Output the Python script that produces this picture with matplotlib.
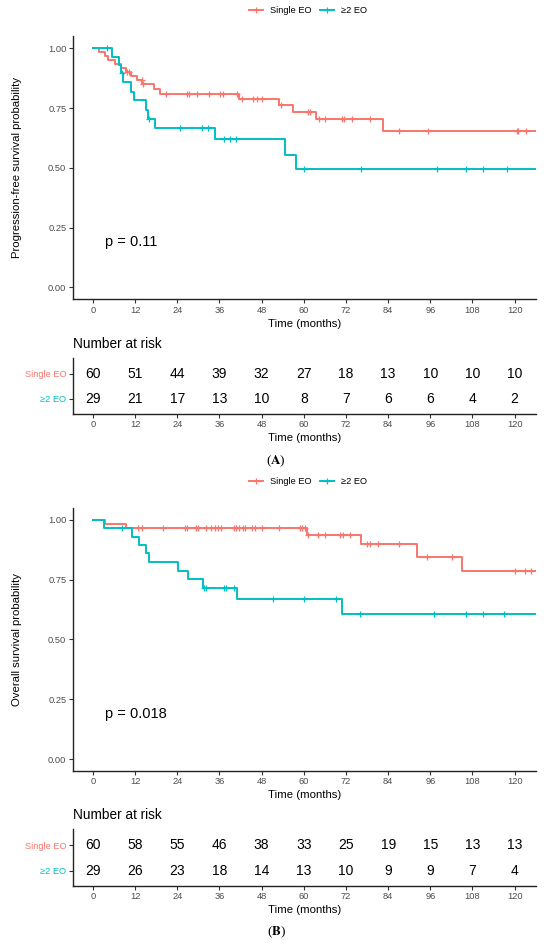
import numpy as np
import matplotlib
matplotlib.use("Agg")
import matplotlib.pyplot as plt
from matplotlib.lines import Line2D

plt.rcParams['font.family'] = ['Liberation Sans', 'DejaVu Sans']
plt.rcParams['mathtext.fontset'] = 'stix'

# --- data ---
groups = ['Single EO', '≥2 EO']
colors = ['#F8766D', '#00BFC4']
risk_times = [0, 12, 24, 36, 48, 60, 72, 84, 96, 108, 120]
t_end = 126

# (A) progression-free survival
pfs_single_times = [1.8, 3.3, 4.3, 6.2, 8.0, 9.3, 10.8, 12.5, 14.0, 17.5, 19.0, 41.6, 52.9, 56.8, 63.6, 82.5]
pfs_single_surv = [0.983, 0.967, 0.950, 0.933, 0.917, 0.900, 0.883, 0.866, 0.850, 0.828, 0.810,
                   0.787, 0.763, 0.735, 0.704, 0.655]
pfs_single_cens = [9.6, 10.3, 13.9, 14.3, 20.9, 26.9, 27.4, 29.5, 33.0, 36.1, 36.9, 40.9, 42.5, 45.5,
                   46.6, 48.2, 53.6, 61.3, 61.9, 64.4, 66.0, 70.9, 71.5, 73.8, 78.9, 87.2, 95.4,
                   120.6, 121.1, 123.3]
pfs_multi_times = [5.3, 7.3, 7.9, 8.6, 10.7, 11.7, 15.0, 15.75, 17.6, 34.7, 54.6, 57.8]
pfs_multi_surv = [0.965, 0.930, 0.895, 0.860, 0.818, 0.784, 0.742, 0.705, 0.665, 0.621, 0.553, 0.497]
pfs_multi_cens = [3.9, 8.2, 15.9, 24.8, 31.1, 32.6, 37.3, 39.0, 40.6, 60.1, 76.4, 97.8, 106.3,
                  111.1, 117.8]
pfs_risk_single = [60, 51, 44, 39, 32, 27, 18, 13, 10, 10, 10]
pfs_risk_multi = [29, 21, 17, 13, 10, 8, 7, 6, 6, 4, 2]
pfs_pval = 'p = 0.11'

# (B) overall survival
os_single_times = [3.4, 9.3, 60.8, 76.2, 92.1, 105.1]
os_single_surv = [0.983, 0.967, 0.937, 0.900, 0.847, 0.787]
os_single_cens = [12.9, 13.9, 20.0, 26.3, 26.9, 29.2, 30.0, 32.1, 33.6, 34.6, 35.6, 36.3, 40.0,
                  40.8, 41.6, 42.6, 43.3, 45.2, 46.2, 48.0, 53.0, 58.9, 59.6, 60.3, 61.3, 64.1,
                  66.0, 70.3, 71.2, 73.1, 77.9, 78.8, 81.2, 87.2, 95.0, 102.1, 120.2, 123.0, 124.8]
os_multi_times = [3.1, 11.0, 13.2, 15.1, 16.0, 24.1, 27.1, 31.2, 40.9, 71.0]
os_multi_surv = [0.965, 0.930, 0.895, 0.860, 0.826, 0.786, 0.752, 0.714, 0.669, 0.607]
os_multi_cens = [8.2, 31.6, 32.1, 37.3, 38.0, 40.1, 51.1, 60.0, 69.1, 76.0, 97.0, 106.1, 111.1, 117.0]
os_risk_single = [60, 58, 55, 46, 38, 33, 25, 19, 15, 13, 13]
os_risk_multi = [29, 26, 23, 18, 14, 13, 10, 9, 9, 7, 4]
os_pval = 'p = 0.018'

TICK_COL = '#4D4D4D'


def style_axis(ax):
    for side in ['top', 'right']:
        ax.spines[side].set_visible(False)
    for side in ['left', 'bottom']:
        ax.spines[side].set_linewidth(1.0)
        ax.spines[side].set_color('#222222')
    ax.tick_params(length=3, width=0.8, color='#333333', labelsize=6.7,
                   labelcolor=TICK_COL, pad=1.5)
    ax.set_xlim(-5.8, t_end)
    ax.set_xticks(risk_times)


def draw_km(ax, curves, ylabel, pval):
    for (times, surv, cens), col in zip(curves, colors):
        x = [0] + list(times) + [t_end]
        y = [1.0] + list(surv) + [surv[-1]]
        ax.plot(x, y, drawstyle='steps-post', color=col, lw=1.4)
        # censor marks sit on the step value at that time
        idx = np.searchsorted(times, cens, side='right')
        lev = np.array([1.0] + list(surv))[idx]
        ax.plot(cens, lev, '+', color=col, ms=4.5, mew=0.9)
    style_axis(ax)
    ax.set_ylim(-0.05, 1.05)
    ax.set_yticks([0, 0.25, 0.5, 0.75, 1.0])
    ax.set_yticklabels(['0.00', '0.25', '0.50', '0.75', '1.00'])
    ax.set_xlabel('Time (months)', fontsize=8.2, labelpad=3)
    ax.set_ylabel(ylabel, fontsize=8.2)
    ax.yaxis.set_label_coords(-0.11, 0.5)
    ax.text(3.3, 0.19, pval, fontsize=10.5, ha='left', va='center')


def draw_risk(ax, single, multi):
    for xi, a, b in zip(risk_times, single, multi):
        ax.text(xi, 2, str(a), ha='center', va='center', fontsize=10)
        ax.text(xi, 1, str(b), ha='center', va='center', fontsize=10)
    style_axis(ax)
    ax.set_ylim(0.4, 2.64)
    ax.set_yticks([2, 1])
    ax.set_yticklabels(groups, fontsize=6.7)
    for lab, col in zip(ax.get_yticklabels(), colors):
        lab.set_color(col)
    ax.set_xlabel('Time (months)', fontsize=8.2, labelpad=3)


def add_legend(fig, y):
    handles = [Line2D([], [], color=c, lw=1.4, marker='+', ms=5, mew=0.9) for c in colors]
    fig.legend(handles, groups, loc='center', bbox_to_anchor=(0.56, y), ncol=2,
               frameon=False, fontsize=6.7, handlelength=1.5, handletextpad=0.7,
               columnspacing=1.0)


fig = plt.figure(figsize=(5.5, 9.46), dpi=100)
L, W = 0.132, 0.842

ax_pfs = fig.add_axes([L, 0.6836, W, 0.2779])
ax_pfs_risk = fig.add_axes([L, 0.5624, W, 0.0592])
ax_os = fig.add_axes([L, 0.1850, W, 0.2780])
ax_os_risk = fig.add_axes([L, 0.0637, W, 0.0599])

draw_km(ax_pfs, [(pfs_single_times, pfs_single_surv, pfs_single_cens),
                 (pfs_multi_times, pfs_multi_surv, pfs_multi_cens)],
        'Progression-free survival probability', pfs_pval)
draw_risk(ax_pfs_risk, pfs_risk_single, pfs_risk_multi)

draw_km(ax_os, [(os_single_times, os_single_surv, os_single_cens),
                (os_multi_times, os_multi_surv, os_multi_cens)],
        'Overall survival probability', os_pval)
draw_risk(ax_os_risk, os_risk_single, os_risk_multi)

add_legend(fig, 0.9887)
add_legend(fig, 0.4908)

fig.text(L, 0.6364, 'Number at risk', fontsize=9.8, va='center', ha='left')
fig.text(L, 0.1385, 'Number at risk', fontsize=9.8, va='center', ha='left')

fig.text(0.502, 0.5127, r'($\mathbf{A}$)', fontsize=9.5, ha='center', va='center',
         family='Liberation Serif')
fig.text(0.502, 0.0148, r'($\mathbf{B}$)', fontsize=9.5, ha='center', va='center',
         family='Liberation Serif')

fig.savefig('out.png', dpi=100)
